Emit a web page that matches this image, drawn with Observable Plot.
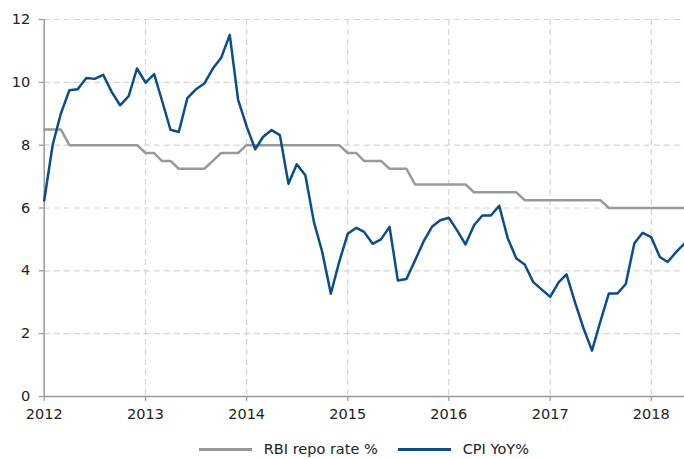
<!DOCTYPE html>
<html>
<head>
<meta charset="utf-8">
<script src="https://cdn.jsdelivr.net/npm/d3@7"></script>
<script src="https://cdn.jsdelivr.net/npm/@observablehq/plot@0.6"></script>
<style>
  html, body { margin: 0; padding: 0; background: #fff; }
  body { width: 684px; height: 459px; overflow: hidden; position: relative; font-family: "DejaVu Sans", sans-serif; }
  #legend { position: absolute; left: 43.7px; width: 640.3px; top: 441px; height: 17px; line-height: 17px; display: flex; justify-content: center; align-items: center; font-size: 14.5px; color: #222; }
  .item { display: flex; align-items: center; margin: 0 10px; }
  .sw { width: 53px; height: 0; border-top: 3px solid; margin-right: 12px; }
</style>
</head>
<body>
<div id="chart"></div>
<div id="legend"></div>
<script>
// Monthly observations starting January 2012
const startYear = 2012;
const seriesNames = ["RBI repo rate %", "CPI YoY%"];
const seriesColors = ["#999999", "#0a4d8c"];
const repoRate = [
  8.5, 8.5, 8.5, 8.0, 8.0, 8.0, 8.0, 8.0, 8.0, 8.0, 8.0, 8.0,
  7.75, 7.75, 7.5, 7.5, 7.25, 7.25, 7.25, 7.25, 7.5, 7.75, 7.75, 7.75,
  8.0, 8.0, 8.0, 8.0, 8.0, 8.0, 8.0, 8.0, 8.0, 8.0, 8.0, 8.0,
  7.75, 7.75, 7.5, 7.5, 7.5, 7.25, 7.25, 7.25, 6.75, 6.75, 6.75, 6.75,
  6.75, 6.75, 6.75, 6.5, 6.5, 6.5, 6.5, 6.5, 6.5, 6.25, 6.25, 6.25,
  6.25, 6.25, 6.25, 6.25, 6.25, 6.25, 6.25, 6.0, 6.0, 6.0, 6.0, 6.0,
  6.0, 6.0, 6.0, 6.0, 6.0
];
const cpiYoY = [
  6.24, 8.03, 9.0, 9.75, 9.78, 10.14, 10.11, 10.24, 9.69, 9.27, 9.56, 10.44,
  9.99, 10.26, 9.43, 8.49, 8.42, 9.5, 9.77, 9.96, 10.44, 10.78, 11.51, 9.45,
  8.6, 7.87, 8.26, 8.48, 8.32, 6.77, 7.39, 7.04, 5.55, 4.6, 3.27, 4.28,
  5.18, 5.37, 5.24, 4.86, 5.0, 5.4, 3.69, 3.74, 4.33, 4.92, 5.4, 5.61,
  5.69, 5.27, 4.84, 5.45, 5.76, 5.76, 6.07, 5.03, 4.39, 4.2, 3.64, 3.41,
  3.17, 3.64, 3.89, 2.99, 2.18, 1.46, 2.38, 3.28, 3.28, 3.58, 4.88, 5.21,
  5.07, 4.44, 4.28, 4.6, 4.87
];
const yTicks = [0, 2, 4, 6, 8, 10, 12];
const xTickYears = [2012, 2013, 2014, 2015, 2016, 2017, 2018];

const monthDate = i => new Date(Date.UTC(startYear, i, 1));
const repoData = repoRate.map((v, i) => ({date: monthDate(i), value: v}));
const cpiData = cpiYoY.map((v, i) => ({date: monthDate(i), value: v}));
const xTicks = xTickYears.map(y => new Date(Date.UTC(y, 0, 1)));
const d0 = monthDate(0), d1 = monthDate(cpiYoY.length - 1);

const chart = Plot.plot({
  width: 684,
  height: 436,
  marginLeft: 43.7,
  marginRight: 0,
  marginTop: 19,
  marginBottom: 40,
  style: {fontFamily: "DejaVu Sans, sans-serif", fontSize: "14.5px", color: "#222", background: "#fff", overflow: "visible"},
  x: {type: "utc", domain: [d0, d1]},
  y: {domain: [0, 12]},
  marks: [
    Plot.gridY(yTicks.filter(d => d > 0), {stroke: "#d4d4d4", strokeOpacity: 1, strokeWidth: 1.2, strokeDasharray: "6,4"}),
    Plot.gridX(xTicks.slice(1), {stroke: "#d4d4d4", strokeOpacity: 1, strokeWidth: 1.2, strokeDasharray: "6,4"}),
    Plot.axisY({ticks: yTicks, tickSize: 5, tickPadding: 9, stroke: "#999", strokeWidth: 1.2, label: null, fill: "#222"}),
    Plot.axisX({ticks: xTicks, tickFormat: d => String(d.getUTCFullYear()), tickSize: 5, tickPadding: 7, stroke: "#999", strokeWidth: 1.2, label: null, fill: "#222"}),
    Plot.ruleY([0], {stroke: "#999", strokeWidth: 1.5}),
    Plot.ruleX([d0], {stroke: "#999", strokeWidth: 1.5}),
    Plot.line(repoData, {x: "date", y: "value", stroke: seriesColors[0], strokeWidth: 2.5}),
    Plot.line(cpiData, {x: "date", y: "value", stroke: seriesColors[1], strokeWidth: 2.5})
  ]
});
document.getElementById("chart").appendChild(chart);

const legend = document.getElementById("legend");
seriesNames.forEach((name, i) => {
  const item = document.createElement("div");
  item.className = "item";
  const sw = document.createElement("div");
  sw.className = "sw";
  sw.style.borderTopColor = seriesColors[i];
  const label = document.createElement("span");
  label.textContent = name;
  item.appendChild(sw);
  item.appendChild(label);
  legend.appendChild(item);
});
</script>
</body>
</html>
